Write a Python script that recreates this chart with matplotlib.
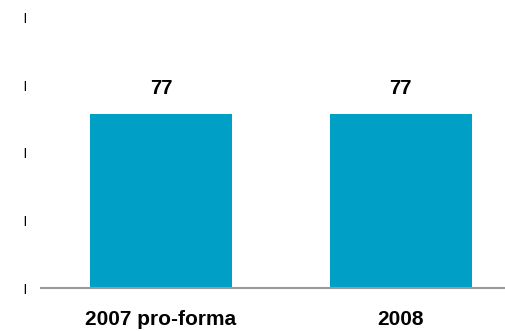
import matplotlib
matplotlib.use('Agg')
import matplotlib.pyplot as plt

plt.rcParams['font.family'] = ['Liberation Sans', 'DejaVu Sans']

categories = ['2007 pro-forma', '2008']
values = [77, 77]
yticks = [0, 30, 60, 90, 120]

bar_color = '#00A0C6'

fig = plt.figure(figsize=(5.06, 3.31), dpi=100)
# axes placed in pixel terms: left 41px, baseline 288px, top tick 17px
ax = fig.add_axes([41 / 506, (331 - 288) / 331, 1 - 41 / 506, (288 - 17) / 331])

x = list(range(len(categories)))
ax.bar(x, values, width=0.593, color=bar_color, zorder=2)

for xi, v in zip(x, values):
    ax.text(xi, v + 11.5, str(v), ha='center', va='center',
            fontsize=14.5, fontweight='bold', color='black')

ax.set_xlim(-0.501, 1.44)
ax.set_ylim(0, 120)

ax.set_xticks(x)
ax.set_xticklabels(categories, fontsize=15, fontweight='bold')
ax.tick_params(axis='x', length=0, pad=16)

# the y axis only shows tiny stroke marks, no numbers
ax.set_yticks(yticks)
ax.set_yticklabels(['|'] * len(yticks), fontsize=7, fontweight='bold', color='black')
ax.tick_params(axis='y', length=0, pad=11)

for side in ['top', 'right', 'left']:
    ax.spines[side].set_visible(False)
ax.spines['bottom'].set_color('#999999')
ax.spines['bottom'].set_linewidth(1.5)

fig.savefig('out.png', dpi=100)
